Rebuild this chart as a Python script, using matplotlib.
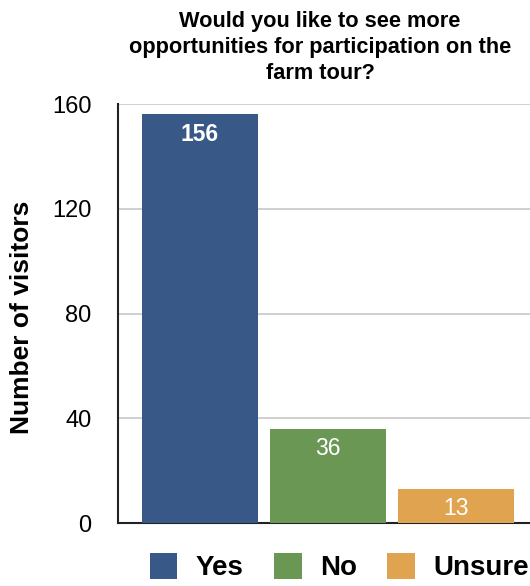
import matplotlib.pyplot as plt
from matplotlib.patches import Patch

plt.rcParams['font.family'] = ['Liberation Sans', 'DejaVu Sans']

answers = ["Yes", "No", "Unsure"]
visitors = [156, 36, 13]
colors = ["#385887", "#6A9754", "#E0A450"]
yticks = [0, 40, 80, 120, 160]

fig = plt.figure(figsize=(5.3, 5.86), dpi=100)
ax = fig.add_axes([0.2226, 0.1075, 0.7774, 0.715])

bars = ax.bar(range(len(answers)), visitors, width=0.906, color=colors, zorder=3)

# value labels inside the top of each bar
for i, (b, v) in enumerate(zip(bars, visitors)):
    ax.text(b.get_x() + b.get_width() / 2, v - 3.2, str(v),
            ha="center", va="top", color="white", fontsize=16.5,
            fontweight="bold" if i == 0 else "normal", zorder=4)

ax.set_xlim(-0.64, 2.58)
ax.set_ylim(0, 160)
ax.set_yticks(yticks)
ax.set_xticks([])
ax.tick_params(axis="y", length=0, pad=19, labelsize=17)
ax.yaxis.grid(True, color="#c8c8c8", linewidth=1.2, zorder=0)
for s in ["top", "right"]:
    ax.spines[s].set_visible(False)
ax.spines["left"].set_color("#222222")
ax.spines["bottom"].set_color("#222222")
ax.spines["left"].set_linewidth(1.5)
ax.spines["bottom"].set_linewidth(1.5)

ax.set_ylabel("Number of visitors", fontsize=19, fontweight="bold")
ax.yaxis.set_label_coords(-0.205, 0.49)

fig.suptitle("Would you like to see more\nopportunities for participation on the\nfarm tour?",
             x=0.604, y=0.982, fontsize=15.7, fontweight="bold", linespacing=1.33)

handles = [Patch(facecolor=c, edgecolor="none") for c in colors]
fig.legend(handles, answers, loc="center", bbox_to_anchor=(0.64, 0.032), ncol=3,
           frameon=False, prop={"size": 20, "weight": "bold"},
           handlelength=1.0, handleheight=1.05, handletextpad=0.65,
           columnspacing=1.1, borderaxespad=0, borderpad=0)

fig.savefig("out.png", dpi=100)
